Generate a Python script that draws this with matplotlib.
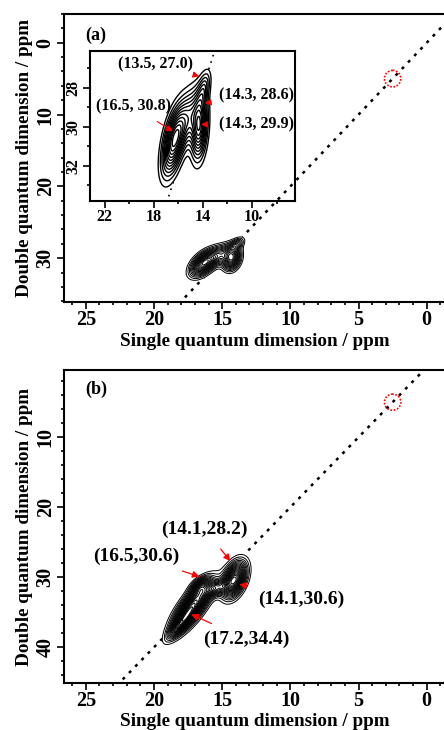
import numpy as np
import matplotlib
matplotlib.use('Agg')
import matplotlib.pyplot as plt
from matplotlib.patches import Ellipse
from matplotlib.ticker import MultipleLocator

plt.rcParams['font.family'] = ['Liberation Serif', 'DejaVu Serif']
plt.rcParams['font.weight'] = 'bold'
plt.rcParams['axes.labelweight'] = 'bold'

# peak model for panel (a): SQ centre, DQ centre, sigma SQ, sigma DQ, correlation, amplitude
a_sq = [16.4, 14.3, 15.3, 13.9]
a_dq = [30.8, 30.0, 29.6, 28.0]
a_ssq = [0.60, 0.42, 0.70, 0.35]
a_sdq = [1.10, 1.05, 1.00, 0.60]
a_rho = [0.50, 0.20, 0.50, 0.50]
a_amp = [1.00, 0.95, 0.55, 0.35]

# peak model for panel (b)
b_sq = [17.2, 14.1, 15.5, 18.1, 16.6]
b_dq = [34.2, 30.3, 31.6, 36.8, 31.2]
b_ssq = [0.90, 0.55, 0.70, 0.55, 0.45]
b_sdq = [2.20, 1.60, 0.80, 1.20, 0.80]
b_rho = [0.78, 0.40, 0.50, 0.80, 0.50]
b_amp = [1.00, 0.90, 0.40, 0.45, 0.40]

# annotations (label, tip SQ, tip DQ, text SQ, text DQ)
a_labels = ['(13.5, 27.0)', '(14.3, 28.6)', '(16.5, 30.8)', '(14.3, 29.9)']
a_tip = [(14.3, 27.4), (13.84, 28.78), (16.46, 30.23), (14.16, 29.87)]
a_txt = [(17.85, 26.8), (9.66, 28.4), (19.66, 28.94), (9.66, 29.87)]

b_labels = ['(14.1,28.2)', '(16.5,30.6)', '(14.1,30.6)', '(17.2,34.4)']
b_tip = [(14.4, 27.7), (16.67, 29.9), (13.74, 31.0), (17.26, 35.3)]
b_txt = [(16.3, 23.1), (21.3, 27.0), (9.19, 33.1), (13.2, 38.9)]

circle_sq, circle_dq = 2.5, 5.0


def field(SQ, DQ, sq, dq, ssq, sdq, rho, amp):
    Z = np.zeros_like(SQ)
    for x0, y0, sx, sy, r, A in zip(sq, dq, ssq, sdq, rho, amp):
        dx = (SQ - x0) / sx
        dy = (DQ - y0) / sy
        Z += A * np.exp(-0.5 * (dx**2 - 2*r*dx*dy + dy**2) / (1 - r**2))
    return Z / Z.max()


sq_grid = np.linspace(9, 22, 400)
dq_grid = np.linspace(23, 42, 400)
SQ, DQ = np.meshgrid(sq_grid, dq_grid)
Za = field(SQ, DQ, a_sq, a_dq, a_ssq, a_sdq, a_rho, a_amp)
Zb = field(SQ, DQ, b_sq, b_dq, b_ssq, b_sdq, b_rho, b_amp)
levels_a = np.linspace(0.1, 0.96, 16)
levels_in = np.linspace(0.1, 0.94, 12)
levels_b = np.linspace(0.07, 0.96, 22)
diag_x = np.array([30, -5])


def style_axes(ax, size=14.5):
    ax.tick_params(which='both', direction='out', width=1.2, labelsize=size, pad=1)
    ax.tick_params(which='major', length=5)
    ax.tick_params(which='minor', length=2.5)
    for s in ax.spines.values():
        s.set_linewidth(1.5)


def draw_blob(ax, Z, levels, lw=0.8):
    ax.contourf(SQ, DQ, Z, levels=[levels[0], 1.1], colors='white', zorder=3)
    ax.contour(SQ, DQ, Z, levels=levels, colors='black', linewidths=lw, zorder=4)


fig = plt.figure(figsize=(4.44, 7.30), dpi=100)

# ---------------- panel (a) ----------------
ax1 = fig.add_axes([0.1441, 0.5863, 0.860, 0.3945])
ax1.plot(diag_x, 2*diag_x, color='black', lw=1.8, linestyle=(0, (1.2, 2.4)), zorder=2)
draw_blob(ax1, Za, levels_a, lw=0.7)
ax1.add_patch(Ellipse((circle_sq, circle_dq), 1.2, 2.3, fill=False, edgecolor='red',
                      lw=1.2, linestyle=(0, (1, 1)), zorder=5))
ax1.set_xlim(26.6, -1.4)
ax1.set_ylim(36.1, -4.0)
ax1.xaxis.set_major_locator(MultipleLocator(5))
ax1.xaxis.set_minor_locator(MultipleLocator(1))
ax1.yaxis.set_major_locator(MultipleLocator(10))
ax1.yaxis.set_minor_locator(MultipleLocator(2))
ax1.set_xlabel('Single quantum dimension / ppm', fontsize=13.8, labelpad=2)
ax1.set_ylabel('Double quantum dimension / ppm', fontsize=13.8, labelpad=2)
ax1.text(0.055, 0.955, '(a)', transform=ax1.transAxes, fontsize=13, va='top')
style_axes(ax1)
for lab in ax1.get_yticklabels():
    lab.set_rotation(90)
    lab.set_va('center')

# inset
ax_in = fig.add_axes([0.2027, 0.7247, 0.4617, 0.2055], zorder=3)
ax_in.patch.set_alpha(0)
ax_in.plot(diag_x, 2*diag_x, color='black', lw=1.2, linestyle=(0, (1, 3)), zorder=2)
draw_blob(ax_in, Za, levels_in, lw=1.0)
ax_in.set_xlim(23.2, 6.5)
ax_in.set_ylim(33.8, 26.1)
ax_in.xaxis.set_minor_locator(MultipleLocator(2))
ax_in.yaxis.set_major_locator(MultipleLocator(2))
ax_in.yaxis.set_minor_locator(MultipleLocator(1))
ax_in.set_xticks([22, 18, 14, 10])
style_axes(ax_in, size=11.5)
for lab in ax_in.get_yticklabels():
    lab.set_rotation(90)
    lab.set_va('center')
for lab, tip, txt in zip(a_labels, a_tip, a_txt):
    ax_in.annotate(lab, xy=tip, xytext=txt, fontsize=11.5, ha='center', va='center',
                   annotation_clip=False, zorder=6,
                   arrowprops=dict(arrowstyle='-|>', color='red', lw=0.8,
                                   mutation_scale=9, shrinkA=6, shrinkB=0))

# ---------------- panel (b) ----------------
ax2 = fig.add_axes([0.1441, 0.0644, 0.860, 0.4288])
ax2.plot(diag_x, 2*diag_x, color='black', lw=1.8, linestyle=(0, (1.2, 2.4)), zorder=2)
draw_blob(ax2, Zb, levels_b, lw=0.7)
ax2.add_patch(Ellipse((circle_sq, circle_dq), 1.2, 2.3, fill=False, edgecolor='red',
                      lw=1.2, linestyle=(0, (1, 1)), zorder=5))
ax2.set_xlim(26.6, -1.4)
ax2.set_ylim(45.1, 0.4)
ax2.xaxis.set_major_locator(MultipleLocator(5))
ax2.xaxis.set_minor_locator(MultipleLocator(1))
ax2.yaxis.set_major_locator(MultipleLocator(10))
ax2.yaxis.set_minor_locator(MultipleLocator(2))
ax2.set_xlabel('Single quantum dimension / ppm', fontsize=13.8, labelpad=1)
ax2.set_ylabel('Double quantum dimension / ppm', fontsize=13.8, labelpad=2)
ax2.text(0.055, 0.965, '(b)', transform=ax2.transAxes, fontsize=13, va='top')
style_axes(ax2)
for lab in ax2.get_yticklabels():
    lab.set_rotation(90)
    lab.set_va('center')
for lab, tip, txt in zip(b_labels, b_tip, b_txt):
    ax2.annotate(lab, xy=tip, xytext=txt, fontsize=14, ha='center', va='center',
                 zorder=6,
                 arrowprops=dict(arrowstyle='-|>', color='red', lw=0.9,
                                 mutation_scale=10, shrinkA=8, shrinkB=0))

fig.savefig('out.png', dpi=100)
